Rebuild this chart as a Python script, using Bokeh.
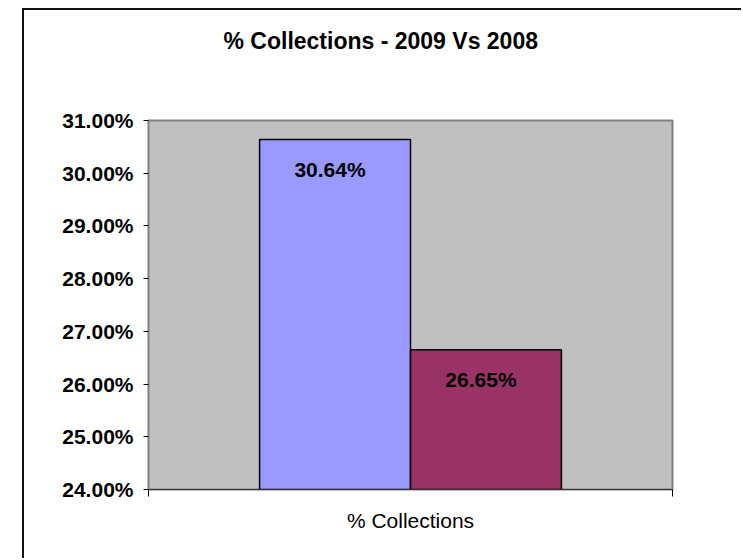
from bokeh.plotting import figure
from bokeh.models import (Range1d, FixedTicker, PrintfTickFormatter, ColumnDataSource,
                          LabelSet, Title)
from bokeh.transform import dodge
from bokeh.core.properties import value
from bokeh.embed import file_html
from bokeh.resources import INLINE

# ---- data ----
title_text = "% Collections - 2009 Vs 2008"
categories = ["% Collections"]
series = ["2009", "2008"]
values_2009 = [30.64]
values_2008 = [26.65]
y_ticks = [24, 25, 26, 27, 28, 29, 30, 31]
y_min, y_max = 24, 31

palette = ["#9999FF", "#993366"]
FONT = "Liberation Sans"

n = len(categories)
centers = [i + 0.5 for i in range(n)]
edges = [i for i in range(n + 1)]

p = figure(width=719, height=550, output_backend="svg", toolbar_location=None,
           x_range=Range1d(0, n), y_range=Range1d(y_min, y_max),
           min_border_left=124, min_border_right=71, min_border_top=110, min_border_bottom=71)

# outer chart border (left and top edges; right/bottom are cropped in the original)
p.margin = (8, 0, 0, 22)
p.styles = {"border-left": "2px solid #111111", "border-top": "2px solid #111111"}

p.background_fill_color = "#C0C0C0"
p.border_fill_color = "white"
p.outline_line_color = "#808080"
p.outline_line_width = 2
p.xgrid.visible = False
p.ygrid.visible = False

# spacing between the plot area and the title
p.add_layout(Title(text=" ", text_font_size="2px", standoff=61), "above")

# title
p.title.text = title_text
p.title.align = "left"
p.title.vertical_align = "top"
p.title.offset = 75
p.title.standoff = 0
p.title.text_font = FONT
p.title.text_font_style = "bold"
p.title.text_font_size = "23px"
p.title.text_color = "black"

# y axis
ya = p.yaxis[0]
ya.ticker = FixedTicker(ticks=y_ticks)
ya.formatter = PrintfTickFormatter(format="%.2f%%")
ya.major_label_text_font = FONT
ya.major_label_text_font_style = "bold"
ya.major_label_text_font_size = "21px"
ya.major_label_text_color = "black"
ya.major_tick_in = 0
ya.major_tick_out = 5
ya.major_tick_line_color = "black"
ya.minor_tick_line_color = None
ya.axis_line_color = "#808080"
ya.major_label_standoff = 10

# x axis: category label at centre, ticks at category edges
xa = p.xaxis[0]
xa.ticker = FixedTicker(ticks=centers, minor_ticks=edges)
xa.major_label_overrides = {c: name for c, name in zip(centers, categories)}
xa.major_tick_line_color = None
xa.major_tick_in = 0
xa.major_tick_out = 0
xa.minor_tick_in = 0
xa.minor_tick_out = 7
xa.minor_tick_line_color = "black"
xa.axis_line_color = "#333333"
xa.major_label_text_font = FONT
xa.major_label_text_font_size = "21px"
xa.major_label_text_color = "black"
xa.major_label_standoff = 12

# bars
bar_w = 0.288
for name, vals, off, col in [(series[0], values_2009, -bar_w / 2, palette[0]),
                             (series[1], values_2008, bar_w / 2, palette[1])]:
    src = ColumnDataSource(dict(x=centers, val=vals,
                                lab=[f"{v:.2f}%" for v in vals]))
    p.vbar(x=dodge("x", off), top="val", bottom=y_min, width=bar_w,
           source=src, fill_color=col, line_color="black", line_width=1.5)
    p.add_layout(LabelSet(x=dodge("x", off), y="val", text="lab",
                          source=src, y_offset=-30, x_offset=-5,
                          text_align="center", text_baseline="middle",
                          text_font=value(FONT), text_font_style="bold",
                          text_font_size="21px", text_color="black"))

open("out.html", "w").write(file_html(p, INLINE))
